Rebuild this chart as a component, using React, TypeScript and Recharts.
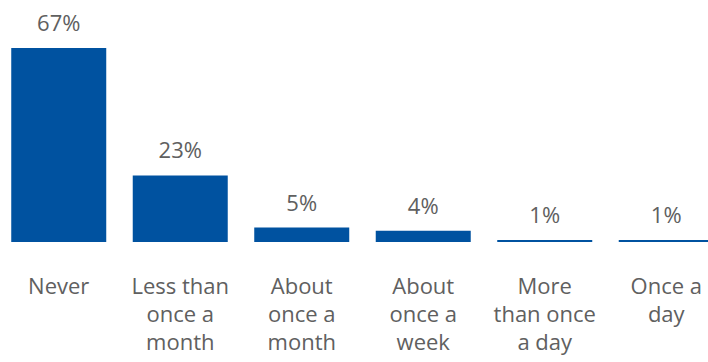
import React from "react";
import { BarChart, Bar, XAxis, YAxis, LabelList } from "recharts";

const categories = [
  "Never",
  "Less than\nonce a\nmonth",
  "About\nonce a\nmonth",
  "About\nonce a\nweek",
  "More\nthan once\na day",
  "Once a\nday",
];
const values = [67, 23, 5, 3.9, 0.7, 0.7];

const data = categories.map((c, i) => ({ name: c, value: values[i] }));

const FONT = "'Open Sans', sans-serif";
const TEXT = "#606060";

const Tick = (props: any) => {
  const { x, y, payload } = props;
  const lines = String(payload.value).split("\n");
  return (
    <g>
      {lines.map((l: string, i: number) => (
        <text
          key={i}
          x={x}
          y={y + 44 + i * 28}
          textAnchor="middle"
          fill={TEXT}
          fontFamily={FONT}
          fontSize={22}
        >
          {l}
        </text>
      ))}
    </g>
  );
};

const TopLabel = (props: any) => {
  const { x, y, width, value } = props;
  return (
    <text
      x={x + width / 2}
      y={y - 17}
      textAnchor="middle"
      fill={TEXT}
      fontFamily={FONT}
      fontSize={22}
    >
      {`${Math.round(value)}%`}
    </text>
  );
};

export default function App() {
  return (
    <div
      style={{
        position: "fixed",
        left: 0,
        top: 0,
        width: 708,
        height: 362,
        overflow: "hidden",
        background: "#fff",
      }}
    >
      <div style={{ position: "absolute", left: -2, top: 0 }}>
        <BarChart
          width={729}
          height={362}
          data={data}
          margin={{ top: 48, right: 0, left: 0, bottom: 0 }}
          barCategoryGap="10.9%"
        >
          <XAxis
            dataKey="name"
            axisLine={false}
            tickLine={false}
            interval={0}
            height={120}
            tick={<Tick />}
          />
          <YAxis hide domain={[0, 67]} />
          <Bar dataKey="value" fill="#0052A0" isAnimationActive={false}>
            <LabelList dataKey="value" content={<TopLabel />} />
          </Bar>
        </BarChart>
      </div>
    </div>
  );
}
